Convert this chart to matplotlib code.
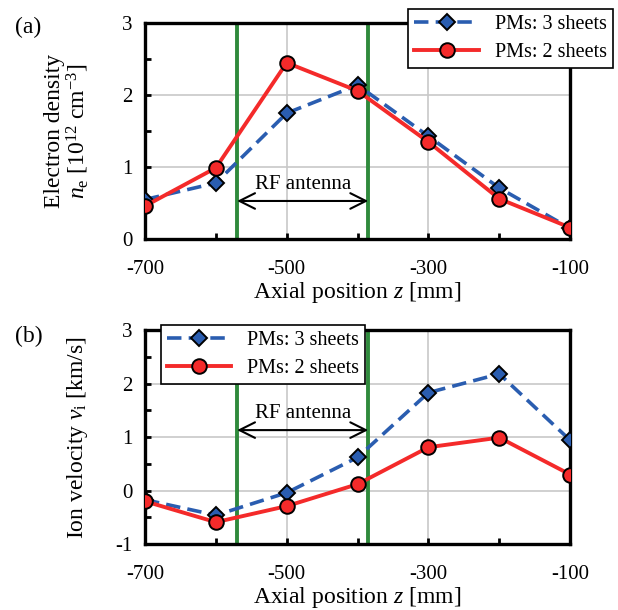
import matplotlib
matplotlib.use("Agg")
import matplotlib.pyplot as plt
from matplotlib.ticker import MultipleLocator

plt.rcParams["font.family"] = ["Liberation Serif", "DejaVu Serif"]
plt.rcParams["mathtext.fontset"] = "custom"
plt.rcParams["mathtext.rm"] = "Liberation Serif"
plt.rcParams["mathtext.it"] = "Liberation Serif:italic"
plt.rcParams["axes.unicode_minus"] = False

z = [-700, -600, -500, -400, -300, -200, -100]
ne_3 = [0.55, 0.78, 1.75, 2.14, 1.43, 0.71, 0.15]
ne_2 = [0.46, 0.99, 2.45, 2.06, 1.35, 0.56, 0.16]
vi_3 = [-0.17, -0.46, -0.04, 0.62, 1.83, 2.18, 0.94]
vi_2 = [-0.20, -0.59, -0.29, 0.12, 0.81, 0.99, 0.30]
antenna = [-570, -385]
labels = ["PMs: 3 sheets", "PMs: 2 sheets"]

BLUE = "#2a5db0"
RED = "#f42a2a"
GREEN = "#2f8a3c"

fig = plt.figure(figsize=(6.18, 6.10), dpi=100)
ax1 = fig.add_axes([0.2346, 0.608, 0.688, 0.354])
ax2 = fig.add_axes([0.2346, 0.108, 0.688, 0.351])


def style(ax, ymin, ymax):
    ax.set_xlim(-700, -100)
    ax.set_ylim(ymin, ymax)
    ax.xaxis.set_major_locator(MultipleLocator(200))
    ax.xaxis.set_minor_locator(MultipleLocator(100))
    ax.yaxis.set_major_locator(MultipleLocator(1))
    ax.yaxis.set_minor_locator(MultipleLocator(0.5))
    ax.grid(True, which="major", color="#c8c8c8", lw=1.2, zorder=0)
    ax.set_axisbelow(True)
    for s in ax.spines.values():
        s.set_linewidth(2.4)
        s.set_color("black")
    ax.tick_params(which="both", direction="in", top=False, right=False,
                   labelsize=15, width=2, color="black")
    ax.tick_params(which="major", length=4)
    ax.tick_params(axis="x", which="major", pad=15)
    ax.tick_params(axis="y", which="major", pad=9)
    ax.tick_params(which="minor", length=4)
    ax.set_xticks([-700, -500, -300, -100])
    ax.set_xlabel("Axial position $z$ [mm]", fontsize=17, labelpad=1)
    for x in antenna:
        ax.axvline(x, color=GREEN, lw=2.8, zorder=2)


def plot_pair(ax, y3, y2):
    ax.plot(z, y3, ls=(0, (4, 2)), color=BLUE, lw=2.6, marker="D", ms=8,
            mfc=BLUE, mec="black", mew=1.4, label=labels[0], zorder=4)
    ax.plot(z, y2, ls="-", color=RED, lw=2.8, marker="o", ms=10.5,
            mfc=RED, mec="black", mew=1.4, label=labels[1], zorder=5)


def add_legend(ax, loc, anchor):
    leg = ax.legend(loc=loc, bbox_to_anchor=anchor,
                    bbox_transform=fig.transFigure, fontsize=14.5,
                    handlelength=3.2, frameon=True, fancybox=False,
                    framealpha=1, borderaxespad=0, borderpad=0.3,
                    labelspacing=0.45)
    leg.get_frame().set_edgecolor("black")
    leg.get_frame().set_linewidth(1.2)


def antenna_arrow(ax, y, ytext):
    ax.annotate("", xy=(antenna[0], y), xytext=(antenna[1], y),
                arrowprops=dict(arrowstyle="<->", color="black", lw=1.5,
                                mutation_scale=28, shrinkA=0, shrinkB=0),
                zorder=3)
    ax.text(sum(antenna) / 2, ytext, "RF antenna", ha="center",
            va="bottom", fontsize=15, zorder=3)


style(ax1, 0, 3)
plot_pair(ax1, ne_3, ne_2)
ax1.set_ylabel("Electron density\n$n_\\mathrm{e}$ [10$^{12}$ cm$^{-3}$]",
               fontsize=17, labelpad=22, linespacing=1.0)
antenna_arrow(ax1, 0.53, 0.62)
add_legend(ax1, "upper right", (0.992, 0.985))

style(ax2, -1, 3)
plot_pair(ax2, vi_3, vi_2)
ax2.set_ylabel("Ion velocity $v_\\mathrm{i}$ [km/s]", fontsize=17,
               labelpad=18)
antenna_arrow(ax2, 1.13, 1.27)
add_legend(ax2, "upper left", (0.26, 0.468))

fig.text(0.025, 0.955, "(a)", fontsize=17, va="center")
fig.text(0.025, 0.448, "(b)", fontsize=17, va="center")

fig.savefig("out.png", dpi=100)
